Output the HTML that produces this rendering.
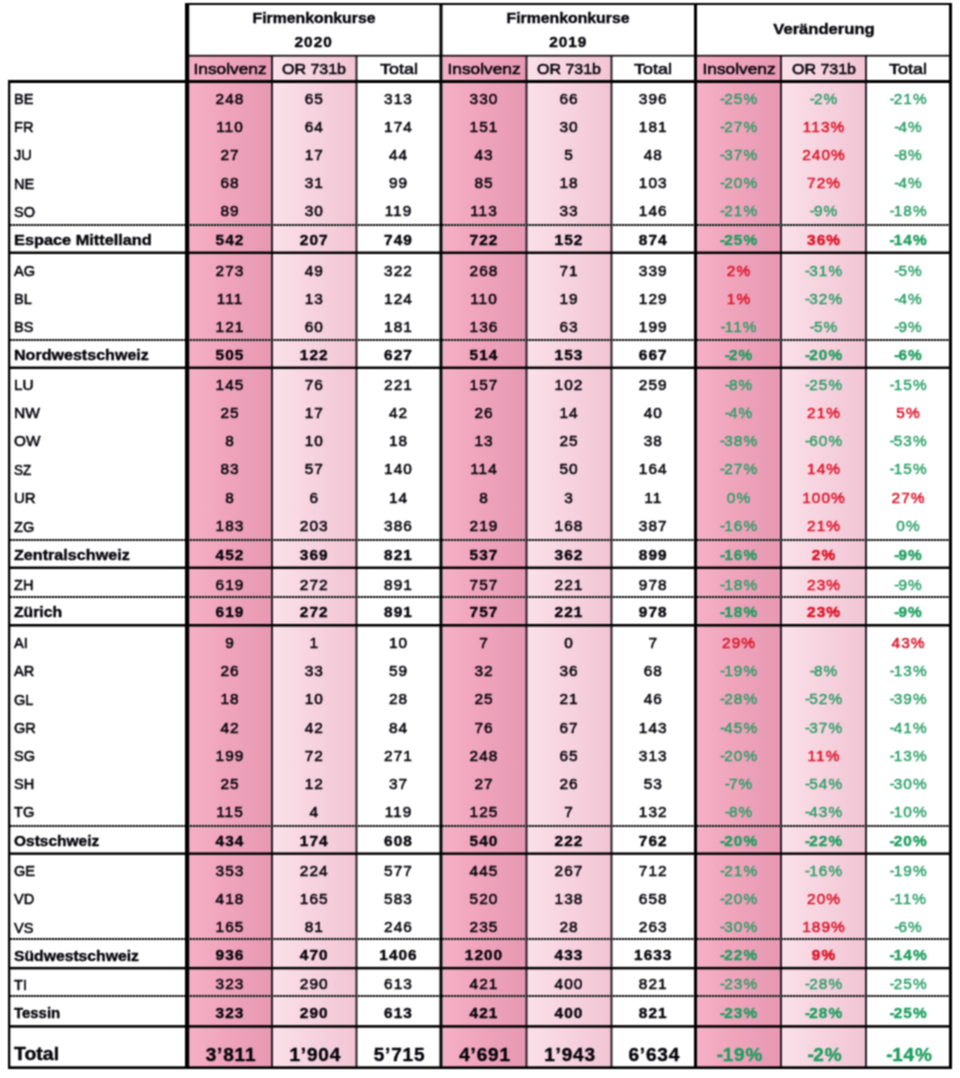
<!DOCTYPE html><html lang="de"><head><meta charset="utf-8"><title>Firmenkonkurse 2020 / 2019</title><style>
html,body{margin:0;padding:0;background:#fff;}
body{width:960px;height:1078px;position:relative;overflow:hidden;font-family:"Liberation Sans",sans-serif;color:#06040a;}
#w{position:absolute;left:0;top:0;width:960px;height:1078px;overflow:hidden;background:#fff;filter:url(#bf);}
.a{position:absolute;}
.k{background:#000;}
.t{position:absolute;white-space:nowrap;line-height:22px;height:22px;font-size:15.4px;transform:translate(-50%,-50%);text-align:center;-webkit-text-stroke:.55px currentColor;}
.l{position:absolute;white-space:nowrap;line-height:22px;height:22px;font-size:15.4px;left:14.3px;transform-origin:0 50%;-webkit-text-stroke:.55px currentColor;}
.n{letter-spacing:1.05px;padding-left:0;font-size:15.4px;margin-top:-.3px;}
.n i,.n u{font-style:normal;text-decoration:none;}
.n i{letter-spacing:-.9px;}
.n u{letter-spacing:0;}
.b{font-weight:bold;-webkit-text-stroke:.4px currentColor;}
.g{color:#279d66;-webkit-text-stroke-width:.4px;}
.b.g{color:#1f9d5f;-webkit-text-stroke-width:.4px;}
.r{color:#dc1428;-webkit-text-stroke-width:.5px;}
.big{font-size:18.0px;}
.big.n{letter-spacing:.8px;padding-left:2px;font-size:19px;margin-top:.7px;}
.big.n i{letter-spacing:-.4px;}
.ins{background:linear-gradient(90deg,#f5b0c6 0%,#f0a5bd 40%,#e798b2 100%);}
.orc{background:linear-gradient(90deg,#fae0e9 0%,#f2c4d4 100%);}
.dot{height:2px;background:repeating-linear-gradient(90deg,#161616 0,#161616 2px,#8c8c8c 2px,#8c8c8c 3px);}
</style></head><body><svg width="0" height="0" style="position:absolute" aria-hidden="true"><filter id="bf" x="0" y="0" width="100%" height="100%" color-interpolation-filters="sRGB"><feConvolveMatrix order="3" kernelMatrix="1 2 1 2 4 2 1 2 1" edgeMode="duplicate" preserveAlpha="true"/></filter></svg><div id="w">
<div class="a ins" style="left:189px;width:82.5px;top:56px;height:1011px"></div>
<div class="a ins" style="left:442.5px;width:83.5px;top:56px;height:1011px"></div>
<div class="a ins" style="left:697px;width:83.5px;top:56px;height:1011px"></div>
<div class="a orc" style="left:272.5px;width:84.0px;top:56px;height:1011px"></div>
<div class="a orc" style="left:527px;width:84.5px;top:56px;height:1011px"></div>
<div class="a orc" style="left:781.5px;width:84.5px;top:56px;height:1011px"></div>
<div class="a" style="left:271px;width:2px;top:56px;height:1012px;background:linear-gradient(90deg,rgba(16,12,20,0.90) 0px,rgba(16,12,20,0.90) 1px,rgba(16,12,20,0.90) 1px,rgba(16,12,20,0.90) 2px)"></div>
<div class="a" style="left:355px;width:3px;top:56px;height:1012px;background:linear-gradient(90deg,rgba(16,12,20,0.40) 0px,rgba(16,12,20,0.40) 1px,rgba(16,12,20,1.00) 1px,rgba(16,12,20,1.00) 2px,rgba(16,12,20,0.40) 2px,rgba(16,12,20,0.40) 3px)"></div>
<div class="a" style="left:525px;width:3px;top:56px;height:1012px;background:linear-gradient(90deg,rgba(16,12,20,0.40) 0px,rgba(16,12,20,0.40) 1px,rgba(16,12,20,1.00) 1px,rgba(16,12,20,1.00) 2px,rgba(16,12,20,0.40) 2px,rgba(16,12,20,0.40) 3px)"></div>
<div class="a" style="left:610px;width:3px;top:56px;height:1012px;background:linear-gradient(90deg,rgba(16,12,20,0.40) 0px,rgba(16,12,20,0.40) 1px,rgba(16,12,20,1.00) 1px,rgba(16,12,20,1.00) 2px,rgba(16,12,20,0.40) 2px,rgba(16,12,20,0.40) 3px)"></div>
<div class="a" style="left:780px;width:2px;top:56px;height:1012px;background:linear-gradient(90deg,rgba(16,12,20,0.90) 0px,rgba(16,12,20,0.90) 1px,rgba(16,12,20,0.90) 1px,rgba(16,12,20,0.90) 2px)"></div>
<div class="a" style="left:865px;width:2px;top:56px;height:1012px;background:linear-gradient(90deg,rgba(16,12,20,0.90) 0px,rgba(16,12,20,0.90) 1px,rgba(16,12,20,0.90) 1px,rgba(16,12,20,0.90) 2px)"></div>
<div class="a dot" style="left:10px;width:940px;top:224px"></div>
<div class="a dot" style="left:10px;width:940px;top:339px"></div>
<div class="a dot" style="left:10px;width:940px;top:539px"></div>
<div class="a dot" style="left:10px;width:940px;top:596px"></div>
<div class="a dot" style="left:10px;width:940px;top:825px"></div>
<div class="a dot" style="left:10px;width:940px;top:938px"></div>
<div class="a dot" style="left:10px;width:940px;top:995px"></div>
<div class="a" style="left:9px;width:942px;top:251px;height:3px;background:linear-gradient(180deg,rgba(0,0,0,0.50) 0px,rgba(0,0,0,0.50) 1px,rgba(0,0,0,1.00) 1px,rgba(0,0,0,1.00) 2px,rgba(0,0,0,1.00) 2px,rgba(0,0,0,1.00) 3px)"></div>
<div class="a" style="left:9px;width:942px;top:366px;height:3px;background:linear-gradient(180deg,rgba(0,0,0,0.50) 0px,rgba(0,0,0,0.50) 1px,rgba(0,0,0,1.00) 1px,rgba(0,0,0,1.00) 2px,rgba(0,0,0,1.00) 2px,rgba(0,0,0,1.00) 3px)"></div>
<div class="a" style="left:9px;width:942px;top:566px;height:3px;background:linear-gradient(180deg,rgba(0,0,0,0.50) 0px,rgba(0,0,0,0.50) 1px,rgba(0,0,0,1.00) 1px,rgba(0,0,0,1.00) 2px,rgba(0,0,0,1.00) 2px,rgba(0,0,0,1.00) 3px)"></div>
<div class="a" style="left:9px;width:942px;top:624px;height:3px;background:linear-gradient(180deg,rgba(0,0,0,1.00) 0px,rgba(0,0,0,1.00) 1px,rgba(0,0,0,1.00) 1px,rgba(0,0,0,1.00) 2px,rgba(0,0,0,0.60) 2px,rgba(0,0,0,0.60) 3px)"></div>
<div class="a" style="left:9px;width:942px;top:852px;height:3px;background:linear-gradient(180deg,rgba(0,0,0,0.60) 0px,rgba(0,0,0,0.60) 1px,rgba(0,0,0,1.00) 1px,rgba(0,0,0,1.00) 2px,rgba(0,0,0,0.90) 2px,rgba(0,0,0,0.90) 3px)"></div>
<div class="a" style="left:9px;width:942px;top:966px;height:4px;background:linear-gradient(180deg,rgba(0,0,0,0.10) 0px,rgba(0,0,0,0.10) 1px,rgba(0,0,0,1.00) 1px,rgba(0,0,0,1.00) 2px,rgba(0,0,0,1.00) 2px,rgba(0,0,0,1.00) 3px,rgba(0,0,0,0.40) 3px,rgba(0,0,0,0.40) 4px)"></div>
<div class="a" style="left:9px;width:942px;top:1025px;height:3px;background:linear-gradient(180deg,rgba(0,0,0,0.90) 0px,rgba(0,0,0,0.90) 1px,rgba(0,0,0,1.00) 1px,rgba(0,0,0,1.00) 2px,rgba(0,0,0,0.70) 2px,rgba(0,0,0,0.70) 3px)"></div>
<div class="a k" style="left:185px;width:767px;top:3px;height:2px"></div>
<div class="a" style="left:189px;width:760px;top:54px;height:3px;background:linear-gradient(180deg,rgba(0,0,0,0.10) 0px,rgba(0,0,0,0.10) 1px,rgba(0,0,0,1.00) 1px,rgba(0,0,0,1.00) 2px,rgba(0,0,0,0.50) 2px,rgba(0,0,0,0.50) 3px)"></div>
<div class="a k" style="left:9px;width:943px;top:80px;height:3px"></div>
<div class="a" style="left:9px;width:943px;top:1066px;height:3px;background:linear-gradient(180deg,rgba(0,0,0,0.70) 0px,rgba(0,0,0,0.70) 1px,rgba(0,0,0,1.00) 1px,rgba(0,0,0,1.00) 2px,rgba(0,0,0,1.00) 2px,rgba(0,0,0,1.00) 3px)"></div>
<div class="a" style="left:8px;width:3px;top:80px;height:989px;background:linear-gradient(90deg,rgba(0,0,0,1.00) 0px,rgba(0,0,0,1.00) 1px,rgba(0,0,0,1.00) 1px,rgba(0,0,0,1.00) 2px,rgba(0,0,0,0.30) 2px,rgba(0,0,0,0.30) 3px)"></div>
<div class="a" style="left:185px;width:5px;top:3px;height:1066px;background:linear-gradient(90deg,rgba(0,0,0,1.00) 0px,rgba(0,0,0,1.00) 1px,rgba(0,0,0,1.00) 1px,rgba(0,0,0,1.00) 2px,rgba(0,0,0,1.00) 2px,rgba(0,0,0,1.00) 3px,rgba(0,0,0,1.00) 3px,rgba(0,0,0,1.00) 4px,rgba(0,0,0,0.20) 4px,rgba(0,0,0,0.20) 5px)"></div>
<div class="a" style="left:439px;width:4px;top:3px;height:1066px;background:linear-gradient(90deg,rgba(0,0,0,0.50) 0px,rgba(0,0,0,0.50) 1px,rgba(0,0,0,1.00) 1px,rgba(0,0,0,1.00) 2px,rgba(0,0,0,1.00) 2px,rgba(0,0,0,1.00) 3px,rgba(0,0,0,0.50) 3px,rgba(0,0,0,0.50) 4px)"></div>
<div class="a k" style="left:694px;width:3px;top:3px;height:1066px"></div>
<div class="a k" style="left:949px;width:3px;top:3px;height:1066px"></div>
<div class="t b" style="left:313.7px;top:17.5px;transform:translate(-50%,-50%) scaleX(1.027);">Firmenkonkurse</div>
<div class="t b n" style="left:313.7px;top:42px;letter-spacing:1.0px;font-size:15.4px">2020</div>
<div class="t b" style="left:568.3px;top:17.5px;transform:translate(-50%,-50%) scaleX(1.027);">Firmenkonkurse</div>
<div class="t b n" style="left:568.3px;top:42px;letter-spacing:1.0px;font-size:15.4px">2019</div>
<div class="t b" style="left:824px;top:29.3px;transform:translate(-50%,-50%) scaleX(1.078);">Veränderung</div>
<div class="t" style="left:230px;top:69.2px;transform:translate(-50%,-50%) scaleX(1.124);">Insolvenz</div>
<div class="t" style="left:314.25px;top:69.2px;transform:translate(-50%,-50%) scaleX(1.039);">OR 731b</div>
<div class="t" style="left:398.5px;top:69.2px;transform:translate(-50%,-50%) scaleX(1.167);">Total</div>
<div class="t" style="left:484px;top:69.2px;transform:translate(-50%,-50%) scaleX(1.124);">Insolvenz</div>
<div class="t" style="left:569px;top:69.2px;transform:translate(-50%,-50%) scaleX(1.039);">OR 731b</div>
<div class="t" style="left:653.25px;top:69.2px;transform:translate(-50%,-50%) scaleX(1.167);">Total</div>
<div class="t" style="left:738.5px;top:69.2px;transform:translate(-50%,-50%) scaleX(1.124);">Insolvenz</div>
<div class="t" style="left:823.5px;top:69.2px;transform:translate(-50%,-50%) scaleX(1.039);">OR 731b</div>
<div class="t" style="left:908px;top:69.2px;transform:translate(-50%,-50%) scaleX(1.167);">Total</div>
<div class="l" style="top:99.25px;transform:translateY(-50%) scaleX(0.945)">BE</div>
<div class="t n" style="left:230px;top:99.25px">248</div>
<div class="t n" style="left:314.25px;top:99.25px">65</div>
<div class="t n" style="left:398.5px;top:99.25px">313</div>
<div class="t n" style="left:484px;top:99.25px">330</div>
<div class="t n" style="left:569px;top:99.25px">66</div>
<div class="t n" style="left:653.25px;top:99.25px">396</div>
<div class="t n g" style="left:738.5px;top:99.25px"><i>-</i>25<u>%</u></div>
<div class="t n g" style="left:823.5px;top:99.25px"><i>-</i>2<u>%</u></div>
<div class="t n g" style="left:908px;top:99.25px"><i>-</i>21<u>%</u></div>
<div class="l" style="top:127.35px;transform:translateY(-50%) scaleX(0.945)">FR</div>
<div class="t n" style="left:230px;top:127.35px">110</div>
<div class="t n" style="left:314.25px;top:127.35px">64</div>
<div class="t n" style="left:398.5px;top:127.35px">174</div>
<div class="t n" style="left:484px;top:127.35px">151</div>
<div class="t n" style="left:569px;top:127.35px">30</div>
<div class="t n" style="left:653.25px;top:127.35px">181</div>
<div class="t n g" style="left:738.5px;top:127.35px"><i>-</i>27<u>%</u></div>
<div class="t n r" style="left:823.5px;top:127.35px">113<u>%</u></div>
<div class="t n g" style="left:908px;top:127.35px"><i>-</i>4<u>%</u></div>
<div class="l" style="top:155.45px;transform:translateY(-50%) scaleX(0.945)">JU</div>
<div class="t n" style="left:230px;top:155.45px">27</div>
<div class="t n" style="left:314.25px;top:155.45px">17</div>
<div class="t n" style="left:398.5px;top:155.45px">44</div>
<div class="t n" style="left:484px;top:155.45px">43</div>
<div class="t n" style="left:569px;top:155.45px">5</div>
<div class="t n" style="left:653.25px;top:155.45px">48</div>
<div class="t n g" style="left:738.5px;top:155.45px"><i>-</i>37<u>%</u></div>
<div class="t n r" style="left:823.5px;top:155.45px">240<u>%</u></div>
<div class="t n g" style="left:908px;top:155.45px"><i>-</i>8<u>%</u></div>
<div class="l" style="top:183.65px;transform:translateY(-50%) scaleX(0.945)">NE</div>
<div class="t n" style="left:230px;top:183.65px">68</div>
<div class="t n" style="left:314.25px;top:183.65px">31</div>
<div class="t n" style="left:398.5px;top:183.65px">99</div>
<div class="t n" style="left:484px;top:183.65px">85</div>
<div class="t n" style="left:569px;top:183.65px">18</div>
<div class="t n" style="left:653.25px;top:183.65px">103</div>
<div class="t n g" style="left:738.5px;top:183.65px"><i>-</i>20<u>%</u></div>
<div class="t n r" style="left:823.5px;top:183.65px">72<u>%</u></div>
<div class="t n g" style="left:908px;top:183.65px"><i>-</i>4<u>%</u></div>
<div class="l" style="top:211.65px;transform:translateY(-50%) scaleX(0.945)">SO</div>
<div class="t n" style="left:230px;top:211.65px">89</div>
<div class="t n" style="left:314.25px;top:211.65px">30</div>
<div class="t n" style="left:398.5px;top:211.65px">119</div>
<div class="t n" style="left:484px;top:211.65px">113</div>
<div class="t n" style="left:569px;top:211.65px">33</div>
<div class="t n" style="left:653.25px;top:211.65px">146</div>
<div class="t n g" style="left:738.5px;top:211.65px"><i>-</i>21<u>%</u></div>
<div class="t n g" style="left:823.5px;top:211.65px"><i>-</i>9<u>%</u></div>
<div class="t n g" style="left:908px;top:211.65px"><i>-</i>18<u>%</u></div>
<div class="l b" style="top:240.05px;transform:translateY(-50%) scaleX(1.060)">Espace Mittelland</div>
<div class="t n b" style="left:230px;top:240.05px">542</div>
<div class="t n b" style="left:314.25px;top:240.05px">207</div>
<div class="t n b" style="left:398.5px;top:240.05px">749</div>
<div class="t n b" style="left:484px;top:240.05px">722</div>
<div class="t n b" style="left:569px;top:240.05px">152</div>
<div class="t n b" style="left:653.25px;top:240.05px">874</div>
<div class="t n b g" style="left:738.5px;top:240.05px"><i>-</i>25<u>%</u></div>
<div class="t n b r" style="left:823.5px;top:240.05px">36<u>%</u></div>
<div class="t n b g" style="left:908px;top:240.05px"><i>-</i>14<u>%</u></div>
<div class="l" style="top:270.95px;transform:translateY(-50%) scaleX(0.945)">AG</div>
<div class="t n" style="left:230px;top:270.95px">273</div>
<div class="t n" style="left:314.25px;top:270.95px">49</div>
<div class="t n" style="left:398.5px;top:270.95px">322</div>
<div class="t n" style="left:484px;top:270.95px">268</div>
<div class="t n" style="left:569px;top:270.95px">71</div>
<div class="t n" style="left:653.25px;top:270.95px">339</div>
<div class="t n r" style="left:738.5px;top:270.95px">2<u>%</u></div>
<div class="t n g" style="left:823.5px;top:270.95px"><i>-</i>31<u>%</u></div>
<div class="t n g" style="left:908px;top:270.95px"><i>-</i>5<u>%</u></div>
<div class="l" style="top:299.05px;transform:translateY(-50%) scaleX(0.945)">BL</div>
<div class="t n" style="left:230px;top:299.05px">111</div>
<div class="t n" style="left:314.25px;top:299.05px">13</div>
<div class="t n" style="left:398.5px;top:299.05px">124</div>
<div class="t n" style="left:484px;top:299.05px">110</div>
<div class="t n" style="left:569px;top:299.05px">19</div>
<div class="t n" style="left:653.25px;top:299.05px">129</div>
<div class="t n r" style="left:738.5px;top:299.05px">1<u>%</u></div>
<div class="t n g" style="left:823.5px;top:299.05px"><i>-</i>32<u>%</u></div>
<div class="t n g" style="left:908px;top:299.05px"><i>-</i>4<u>%</u></div>
<div class="l" style="top:327.15px;transform:translateY(-50%) scaleX(0.945)">BS</div>
<div class="t n" style="left:230px;top:327.15px">121</div>
<div class="t n" style="left:314.25px;top:327.15px">60</div>
<div class="t n" style="left:398.5px;top:327.15px">181</div>
<div class="t n" style="left:484px;top:327.15px">136</div>
<div class="t n" style="left:569px;top:327.15px">63</div>
<div class="t n" style="left:653.25px;top:327.15px">199</div>
<div class="t n g" style="left:738.5px;top:327.15px"><i>-</i>11<u>%</u></div>
<div class="t n g" style="left:823.5px;top:327.15px"><i>-</i>5<u>%</u></div>
<div class="t n g" style="left:908px;top:327.15px"><i>-</i>9<u>%</u></div>
<div class="l b" style="top:355.45px;transform:translateY(-50%) scaleX(1.044)">Nordwestschweiz</div>
<div class="t n b" style="left:230px;top:355.45px">505</div>
<div class="t n b" style="left:314.25px;top:355.45px">122</div>
<div class="t n b" style="left:398.5px;top:355.45px">627</div>
<div class="t n b" style="left:484px;top:355.45px">514</div>
<div class="t n b" style="left:569px;top:355.45px">153</div>
<div class="t n b" style="left:653.25px;top:355.45px">667</div>
<div class="t n b g" style="left:738.5px;top:355.45px"><i>-</i>2<u>%</u></div>
<div class="t n b g" style="left:823.5px;top:355.45px"><i>-</i>20<u>%</u></div>
<div class="t n b g" style="left:908px;top:355.45px"><i>-</i>6<u>%</u></div>
<div class="l" style="top:385.05px;transform:translateY(-50%) scaleX(0.994)">LU</div>
<div class="t n" style="left:230px;top:385.05px">145</div>
<div class="t n" style="left:314.25px;top:385.05px">76</div>
<div class="t n" style="left:398.5px;top:385.05px">221</div>
<div class="t n" style="left:484px;top:385.05px">157</div>
<div class="t n" style="left:569px;top:385.05px">102</div>
<div class="t n" style="left:653.25px;top:385.05px">259</div>
<div class="t n g" style="left:738.5px;top:385.05px"><i>-</i>8<u>%</u></div>
<div class="t n g" style="left:823.5px;top:385.05px"><i>-</i>25<u>%</u></div>
<div class="t n g" style="left:908px;top:385.05px"><i>-</i>15<u>%</u></div>
<div class="l" style="top:413.05px;transform:translateY(-50%) scaleX(1.013)">NW</div>
<div class="t n" style="left:230px;top:413.05px">25</div>
<div class="t n" style="left:314.25px;top:413.05px">17</div>
<div class="t n" style="left:398.5px;top:413.05px">42</div>
<div class="t n" style="left:484px;top:413.05px">26</div>
<div class="t n" style="left:569px;top:413.05px">14</div>
<div class="t n" style="left:653.25px;top:413.05px">40</div>
<div class="t n g" style="left:738.5px;top:413.05px"><i>-</i>4<u>%</u></div>
<div class="t n r" style="left:823.5px;top:413.05px">21<u>%</u></div>
<div class="t n r" style="left:908px;top:413.05px">5<u>%</u></div>
<div class="l" style="top:441.45px;transform:translateY(-50%) scaleX(0.994)">OW</div>
<div class="t n" style="left:230px;top:441.45px">8</div>
<div class="t n" style="left:314.25px;top:441.45px">10</div>
<div class="t n" style="left:398.5px;top:441.45px">18</div>
<div class="t n" style="left:484px;top:441.45px">13</div>
<div class="t n" style="left:569px;top:441.45px">25</div>
<div class="t n" style="left:653.25px;top:441.45px">38</div>
<div class="t n g" style="left:738.5px;top:441.45px"><i>-</i>38<u>%</u></div>
<div class="t n g" style="left:823.5px;top:441.45px"><i>-</i>60<u>%</u></div>
<div class="t n g" style="left:908px;top:441.45px"><i>-</i>53<u>%</u></div>
<div class="l" style="top:469.65px;transform:translateY(-50%) scaleX(0.877)">SZ</div>
<div class="t n" style="left:230px;top:469.65px">83</div>
<div class="t n" style="left:314.25px;top:469.65px">57</div>
<div class="t n" style="left:398.5px;top:469.65px">140</div>
<div class="t n" style="left:484px;top:469.65px">114</div>
<div class="t n" style="left:569px;top:469.65px">50</div>
<div class="t n" style="left:653.25px;top:469.65px">164</div>
<div class="t n g" style="left:738.5px;top:469.65px"><i>-</i>27<u>%</u></div>
<div class="t n r" style="left:823.5px;top:469.65px">14<u>%</u></div>
<div class="t n g" style="left:908px;top:469.65px"><i>-</i>15<u>%</u></div>
<div class="l" style="top:498.05px;transform:translateY(-50%) scaleX(0.974)">UR</div>
<div class="t n" style="left:230px;top:498.05px">8</div>
<div class="t n" style="left:314.25px;top:498.05px">6</div>
<div class="t n" style="left:398.5px;top:498.05px">14</div>
<div class="t n" style="left:484px;top:498.05px">8</div>
<div class="t n" style="left:569px;top:498.05px">3</div>
<div class="t n" style="left:653.25px;top:498.05px">11</div>
<div class="t n g" style="left:738.5px;top:498.05px">0<u>%</u></div>
<div class="t n r" style="left:823.5px;top:498.05px">100<u>%</u></div>
<div class="t n r" style="left:908px;top:498.05px">27<u>%</u></div>
<div class="l" style="top:526.55px;transform:translateY(-50%) scaleX(0.945)">ZG</div>
<div class="t n" style="left:230px;top:526.55px">183</div>
<div class="t n" style="left:314.25px;top:526.55px">203</div>
<div class="t n" style="left:398.5px;top:526.55px">386</div>
<div class="t n" style="left:484px;top:526.55px">219</div>
<div class="t n" style="left:569px;top:526.55px">168</div>
<div class="t n" style="left:653.25px;top:526.55px">387</div>
<div class="t n g" style="left:738.5px;top:526.55px"><i>-</i>16<u>%</u></div>
<div class="t n r" style="left:823.5px;top:526.55px">21<u>%</u></div>
<div class="t n g" style="left:908px;top:526.55px">0<u>%</u></div>
<div class="l b" style="top:554.85px;transform:translateY(-50%) scaleX(1.049)">Zentralschweiz</div>
<div class="t n b" style="left:230px;top:554.85px">452</div>
<div class="t n b" style="left:314.25px;top:554.85px">369</div>
<div class="t n b" style="left:398.5px;top:554.85px">821</div>
<div class="t n b" style="left:484px;top:554.85px">537</div>
<div class="t n b" style="left:569px;top:554.85px">362</div>
<div class="t n b" style="left:653.25px;top:554.85px">899</div>
<div class="t n b g" style="left:738.5px;top:554.85px"><i>-</i>16<u>%</u></div>
<div class="t n b r" style="left:823.5px;top:554.85px">2<u>%</u></div>
<div class="t n b g" style="left:908px;top:554.85px"><i>-</i>9<u>%</u></div>
<div class="l" style="top:584.95px;transform:translateY(-50%) scaleX(0.945)">ZH</div>
<div class="t n" style="left:230px;top:584.95px">619</div>
<div class="t n" style="left:314.25px;top:584.95px">272</div>
<div class="t n" style="left:398.5px;top:584.95px">891</div>
<div class="t n" style="left:484px;top:584.95px">757</div>
<div class="t n" style="left:569px;top:584.95px">221</div>
<div class="t n" style="left:653.25px;top:584.95px">978</div>
<div class="t n g" style="left:738.5px;top:584.95px"><i>-</i>18<u>%</u></div>
<div class="t n r" style="left:823.5px;top:584.95px">23<u>%</u></div>
<div class="t n g" style="left:908px;top:584.95px"><i>-</i>9<u>%</u></div>
<div class="l b" style="top:612.45px;transform:translateY(-50%) scaleX(1.023)">Zürich</div>
<div class="t n b" style="left:230px;top:612.45px">619</div>
<div class="t n b" style="left:314.25px;top:612.45px">272</div>
<div class="t n b" style="left:398.5px;top:612.45px">891</div>
<div class="t n b" style="left:484px;top:612.45px">757</div>
<div class="t n b" style="left:569px;top:612.45px">221</div>
<div class="t n b" style="left:653.25px;top:612.45px">978</div>
<div class="t n b g" style="left:738.5px;top:612.45px"><i>-</i>18<u>%</u></div>
<div class="t n b r" style="left:823.5px;top:612.45px">23<u>%</u></div>
<div class="t n b g" style="left:908px;top:612.45px"><i>-</i>9<u>%</u></div>
<div class="l" style="top:643.05px;transform:translateY(-50%) scaleX(0.945)">AI</div>
<div class="t n" style="left:230px;top:643.05px">9</div>
<div class="t n" style="left:314.25px;top:643.05px">1</div>
<div class="t n" style="left:398.5px;top:643.05px">10</div>
<div class="t n" style="left:484px;top:643.05px">7</div>
<div class="t n" style="left:569px;top:643.05px">0</div>
<div class="t n" style="left:653.25px;top:643.05px">7</div>
<div class="t n r" style="left:738.5px;top:643.05px">29<u>%</u></div>
<div class="t n r" style="left:908px;top:643.05px">43<u>%</u></div>
<div class="l" style="top:671.35px;transform:translateY(-50%) scaleX(0.945)">AR</div>
<div class="t n" style="left:230px;top:671.35px">26</div>
<div class="t n" style="left:314.25px;top:671.35px">33</div>
<div class="t n" style="left:398.5px;top:671.35px">59</div>
<div class="t n" style="left:484px;top:671.35px">32</div>
<div class="t n" style="left:569px;top:671.35px">36</div>
<div class="t n" style="left:653.25px;top:671.35px">68</div>
<div class="t n g" style="left:738.5px;top:671.35px"><i>-</i>19<u>%</u></div>
<div class="t n g" style="left:823.5px;top:671.35px"><i>-</i>8<u>%</u></div>
<div class="t n g" style="left:908px;top:671.35px"><i>-</i>13<u>%</u></div>
<div class="l" style="top:699.65px;transform:translateY(-50%) scaleX(0.945)">GL</div>
<div class="t n" style="left:230px;top:699.65px">18</div>
<div class="t n" style="left:314.25px;top:699.65px">10</div>
<div class="t n" style="left:398.5px;top:699.65px">28</div>
<div class="t n" style="left:484px;top:699.65px">25</div>
<div class="t n" style="left:569px;top:699.65px">21</div>
<div class="t n" style="left:653.25px;top:699.65px">46</div>
<div class="t n g" style="left:738.5px;top:699.65px"><i>-</i>28<u>%</u></div>
<div class="t n g" style="left:823.5px;top:699.65px"><i>-</i>52<u>%</u></div>
<div class="t n g" style="left:908px;top:699.65px"><i>-</i>39<u>%</u></div>
<div class="l" style="top:727.85px;transform:translateY(-50%) scaleX(0.945)">GR</div>
<div class="t n" style="left:230px;top:727.85px">42</div>
<div class="t n" style="left:314.25px;top:727.85px">42</div>
<div class="t n" style="left:398.5px;top:727.85px">84</div>
<div class="t n" style="left:484px;top:727.85px">76</div>
<div class="t n" style="left:569px;top:727.85px">67</div>
<div class="t n" style="left:653.25px;top:727.85px">143</div>
<div class="t n g" style="left:738.5px;top:727.85px"><i>-</i>45<u>%</u></div>
<div class="t n g" style="left:823.5px;top:727.85px"><i>-</i>37<u>%</u></div>
<div class="t n g" style="left:908px;top:727.85px"><i>-</i>41<u>%</u></div>
<div class="l" style="top:756.45px;transform:translateY(-50%) scaleX(0.945)">SG</div>
<div class="t n" style="left:230px;top:756.45px">199</div>
<div class="t n" style="left:314.25px;top:756.45px">72</div>
<div class="t n" style="left:398.5px;top:756.45px">271</div>
<div class="t n" style="left:484px;top:756.45px">248</div>
<div class="t n" style="left:569px;top:756.45px">65</div>
<div class="t n" style="left:653.25px;top:756.45px">313</div>
<div class="t n g" style="left:738.5px;top:756.45px"><i>-</i>20<u>%</u></div>
<div class="t n r" style="left:823.5px;top:756.45px">11<u>%</u></div>
<div class="t n g" style="left:908px;top:756.45px"><i>-</i>13<u>%</u></div>
<div class="l" style="top:784.35px;transform:translateY(-50%) scaleX(0.945)">SH</div>
<div class="t n" style="left:230px;top:784.35px">25</div>
<div class="t n" style="left:314.25px;top:784.35px">12</div>
<div class="t n" style="left:398.5px;top:784.35px">37</div>
<div class="t n" style="left:484px;top:784.35px">27</div>
<div class="t n" style="left:569px;top:784.35px">26</div>
<div class="t n" style="left:653.25px;top:784.35px">53</div>
<div class="t n g" style="left:738.5px;top:784.35px"><i>-</i>7<u>%</u></div>
<div class="t n g" style="left:823.5px;top:784.35px"><i>-</i>54<u>%</u></div>
<div class="t n g" style="left:908px;top:784.35px"><i>-</i>30<u>%</u></div>
<div class="l" style="top:812.35px;transform:translateY(-50%) scaleX(0.945)">TG</div>
<div class="t n" style="left:230px;top:812.35px">115</div>
<div class="t n" style="left:314.25px;top:812.35px">4</div>
<div class="t n" style="left:398.5px;top:812.35px">119</div>
<div class="t n" style="left:484px;top:812.35px">125</div>
<div class="t n" style="left:569px;top:812.35px">7</div>
<div class="t n" style="left:653.25px;top:812.35px">132</div>
<div class="t n g" style="left:738.5px;top:812.35px"><i>-</i>8<u>%</u></div>
<div class="t n g" style="left:823.5px;top:812.35px"><i>-</i>43<u>%</u></div>
<div class="t n g" style="left:908px;top:812.35px"><i>-</i>10<u>%</u></div>
<div class="l b" style="top:841.25px;transform:translateY(-50%) scaleX(1.006)">Ostschweiz</div>
<div class="t n b" style="left:230px;top:841.25px">434</div>
<div class="t n b" style="left:314.25px;top:841.25px">174</div>
<div class="t n b" style="left:398.5px;top:841.25px">608</div>
<div class="t n b" style="left:484px;top:841.25px">540</div>
<div class="t n b" style="left:569px;top:841.25px">222</div>
<div class="t n b" style="left:653.25px;top:841.25px">762</div>
<div class="t n b g" style="left:738.5px;top:841.25px"><i>-</i>20<u>%</u></div>
<div class="t n b g" style="left:823.5px;top:841.25px"><i>-</i>22<u>%</u></div>
<div class="t n b g" style="left:908px;top:841.25px"><i>-</i>20<u>%</u></div>
<div class="l" style="top:871.25px;transform:translateY(-50%) scaleX(0.945)">GE</div>
<div class="t n" style="left:230px;top:871.25px">353</div>
<div class="t n" style="left:314.25px;top:871.25px">224</div>
<div class="t n" style="left:398.5px;top:871.25px">577</div>
<div class="t n" style="left:484px;top:871.25px">445</div>
<div class="t n" style="left:569px;top:871.25px">267</div>
<div class="t n" style="left:653.25px;top:871.25px">712</div>
<div class="t n g" style="left:738.5px;top:871.25px"><i>-</i>21<u>%</u></div>
<div class="t n g" style="left:823.5px;top:871.25px"><i>-</i>16<u>%</u></div>
<div class="t n g" style="left:908px;top:871.25px"><i>-</i>19<u>%</u></div>
<div class="l" style="top:899.35px;transform:translateY(-50%) scaleX(0.945)">VD</div>
<div class="t n" style="left:230px;top:899.35px">418</div>
<div class="t n" style="left:314.25px;top:899.35px">165</div>
<div class="t n" style="left:398.5px;top:899.35px">583</div>
<div class="t n" style="left:484px;top:899.35px">520</div>
<div class="t n" style="left:569px;top:899.35px">138</div>
<div class="t n" style="left:653.25px;top:899.35px">658</div>
<div class="t n g" style="left:738.5px;top:899.35px"><i>-</i>20<u>%</u></div>
<div class="t n r" style="left:823.5px;top:899.35px">20<u>%</u></div>
<div class="t n g" style="left:908px;top:899.35px"><i>-</i>11<u>%</u></div>
<div class="l" style="top:927.65px;transform:translateY(-50%) scaleX(0.945)">VS</div>
<div class="t n" style="left:230px;top:927.65px">165</div>
<div class="t n" style="left:314.25px;top:927.65px">81</div>
<div class="t n" style="left:398.5px;top:927.65px">246</div>
<div class="t n" style="left:484px;top:927.65px">235</div>
<div class="t n" style="left:569px;top:927.65px">28</div>
<div class="t n" style="left:653.25px;top:927.65px">263</div>
<div class="t n g" style="left:738.5px;top:927.65px"><i>-</i>30<u>%</u></div>
<div class="t n r" style="left:823.5px;top:927.65px">189<u>%</u></div>
<div class="t n g" style="left:908px;top:927.65px"><i>-</i>6<u>%</u></div>
<div class="l b" style="top:955.75px;transform:translateY(-50%) scaleX(1.021)">Südwestschweiz</div>
<div class="t n b" style="left:230px;top:955.75px">936</div>
<div class="t n b" style="left:314.25px;top:955.75px">470</div>
<div class="t n b" style="left:398.5px;top:955.75px">1406</div>
<div class="t n b" style="left:484px;top:955.75px">1200</div>
<div class="t n b" style="left:569px;top:955.75px">433</div>
<div class="t n b" style="left:653.25px;top:955.75px">1633</div>
<div class="t n b g" style="left:738.5px;top:955.75px"><i>-</i>22<u>%</u></div>
<div class="t n b r" style="left:823.5px;top:955.75px">9<u>%</u></div>
<div class="t n b g" style="left:908px;top:955.75px"><i>-</i>14<u>%</u></div>
<div class="l" style="top:984.65px;transform:translateY(-50%) scaleX(0.945)">TI</div>
<div class="t n" style="left:230px;top:984.65px">323</div>
<div class="t n" style="left:314.25px;top:984.65px">290</div>
<div class="t n" style="left:398.5px;top:984.65px">613</div>
<div class="t n" style="left:484px;top:984.65px">421</div>
<div class="t n" style="left:569px;top:984.65px">400</div>
<div class="t n" style="left:653.25px;top:984.65px">821</div>
<div class="t n g" style="left:738.5px;top:984.65px"><i>-</i>23<u>%</u></div>
<div class="t n g" style="left:823.5px;top:984.65px"><i>-</i>28<u>%</u></div>
<div class="t n g" style="left:908px;top:984.65px"><i>-</i>25<u>%</u></div>
<div class="l b" style="top:1013.4px;transform:translateY(-50%) scaleX(0.969)">Tessin</div>
<div class="t n b" style="left:230px;top:1013.4px">323</div>
<div class="t n b" style="left:314.25px;top:1013.4px">290</div>
<div class="t n b" style="left:398.5px;top:1013.4px">613</div>
<div class="t n b" style="left:484px;top:1013.4px">421</div>
<div class="t n b" style="left:569px;top:1013.4px">400</div>
<div class="t n b" style="left:653.25px;top:1013.4px">821</div>
<div class="t n b g" style="left:738.5px;top:1013.4px"><i>-</i>23<u>%</u></div>
<div class="t n b g" style="left:823.5px;top:1013.4px"><i>-</i>28<u>%</u></div>
<div class="t n b g" style="left:908px;top:1013.4px"><i>-</i>25<u>%</u></div>
<div class="l b big" style="top:1054.25px;transform:translateY(-50%) scaleX(1.081)">Total</div>
<div class="t n b big" style="left:230px;top:1054.25px">3’811</div>
<div class="t n b big" style="left:314.25px;top:1054.25px">1’904</div>
<div class="t n b big" style="left:398.5px;top:1054.25px">5’715</div>
<div class="t n b big" style="left:484px;top:1054.25px">4’691</div>
<div class="t n b big" style="left:569px;top:1054.25px">1’943</div>
<div class="t n b big" style="left:653.25px;top:1054.25px">6’634</div>
<div class="t n b big g" style="left:738.5px;top:1054.25px"><i>-</i>19<u>%</u></div>
<div class="t n b big g" style="left:823.5px;top:1054.25px"><i>-</i>2<u>%</u></div>
<div class="t n b big g" style="left:908px;top:1054.25px"><i>-</i>14<u>%</u></div>
</div></body></html>
